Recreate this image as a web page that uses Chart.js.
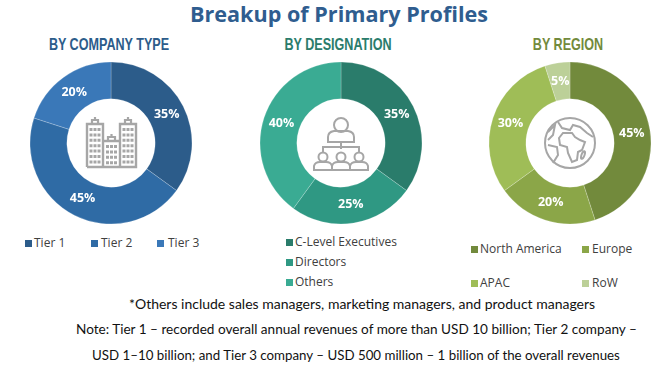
<!DOCTYPE html>
<html><head><meta charset="utf-8">
<script src="https://cdn.jsdelivr.net/npm/chart.js@4"></script>
<style>
html,body{margin:0;padding:0;background:#fff;width:662px;height:366px;overflow:hidden}
#root{position:relative;width:662px;height:366px;overflow:hidden}
.t{position:absolute;white-space:nowrap;line-height:1}
canvas{position:absolute}
.sq{position:absolute;width:7px;height:7px}
.lg{position:absolute;white-space:nowrap;font:12px "Open Sans",sans-serif;color:#404040;line-height:1}
.h{font:bold 17px "Liberation Sans",sans-serif;transform:translateX(-50%) scaleX(.74)}
.n{font:14px Lato,sans-serif;color:#111;transform-origin:left center}
svg{position:absolute;fill:none;stroke:#a6a6a6;stroke-width:2}
</style></head><body><div id="root">
<div class="t" style="left:190px;top:-1px;font:bold 21.6px 'Open Sans',sans-serif;color:#2f5d8f">Breakup of Primary Profiles</div>
<div class="t h" style="left:109px;top:35px;color:#2c5c8a">BY COMPANY TYPE</div>
<div class="t h" style="left:338px;top:35px;color:#2a7c6b">BY DESIGNATION</div>
<div class="t h" style="left:568px;top:35px;color:#728a3c">BY REGION</div>
<canvas id="c1" width="180" height="180" style="left:21px;top:53px"></canvas>
<canvas id="c2" width="180" height="180" style="left:251px;top:53px"></canvas>
<canvas id="c3" width="180" height="180" style="left:480px;top:53px"></canvas>

<svg style="left:84px;top:116px" width="56" height="56" viewBox="0 0 56 56">
<path stroke-width="2.4" d="M3 51V8H19V51M19 51V25H36V51M36 25V8H52V51H3"/><path stroke-width="2.2" d="M8 8V4H14V8M24 25V21H31V25M41 8V4H47V8M11 4V1M27.5 21V18M44 4V1"/>
<path stroke-dasharray="3 2.4" stroke-width="3" d="M7 12V49M11 12V49M15 12V49M40 12V49M44 12V49M48 12V49M23.5 29V49M27.5 29V49M31.5 29V49"/>
</svg>
<svg style="left:313px;top:115px" width="56" height="56" viewBox="0 0 56 56" stroke-width="1.8">
<circle cx="28" cy="10" r="7"/><path d="M15 27V22Q15 17 21 16H35Q41 17 41 22V27Z"/><path d="M28 27V34M10 37V32H46V37"/>
<circle cx="10" cy="42" r="4.5"/><circle cx="28" cy="42" r="4.5"/><circle cx="46" cy="42" r="4.5"/>
<path d="M1 55V51Q2 47 7 47H13Q18 47 19 51V55ZM19 55V51Q20 47 25 47H31Q36 47 37 51V55ZM37 55V51Q38 47 43 47H49Q54 47 55 51V55Z"/>
</svg>
<svg style="left:543px;top:116px" width="54" height="54" viewBox="0 0 54 54" stroke-width="1.8">
<circle cx="27" cy="27" r="25"/>
<path d="M16 22L20 17H29L32 21L37 24L42 26L39 34L35 36L34 44L29 46L25 37L24 31L17 29Z"/>
<ellipse cx="40" cy="39" rx="1.5" ry="4" transform="rotate(20 40 39)"/>
<path d="M15 6L19 12L27 14L30 9L37 11L44 17L50 21M5 16L12 9L10 19L5 24M5 29L14 31L15 39L10 47"/>
</svg>

<div class="t n" style="left:129px;top:295px">*Others include sales managers, marketing managers, and product managers</div>
<div class="t n" style="left:76px;top:320px;transform:scaleX(.97)">Note: Tier 1 – recorded overall annual revenues of more than USD 10 billion; Tier 2 company –</div>
<div class="t n" style="left:92px;top:346px;transform:scaleX(.95)">USD 1–10 billion; and Tier 3 company – USD 500 million – 1 billion of the overall revenues</div>
</div>
<script>
const companyLabels = ["Tier 1","Tier 2","Tier 3"];
const companyValues = [35,45,20];
const companyColors = ["#2c5c8a","#2f6ba5","#3a78b8"];
const designationLabels = ["C-Level Executives","Directors","Others"];
const designationValues = [35,25,40];
const designationColors = ["#2a7c6b","#2f9883","#3aab93"];
const regionLabels = ["North America","Europe","APAC","RoW"];
const regionValues = [45,20,30,5];
const regionColors = ["#728a3c","#8ba648","#9fbd57","#bcd098"];

const pctLabels = {
  id:"pctLabels",
  afterDatasetsDraw(chart){
    const ctx = chart.ctx, ds = chart.data.datasets[0];
    ctx.save();
    ctx.font = 'bold 12.5px "Open Sans",sans-serif';
    ctx.fillStyle = "#fff"; ctx.textAlign = "center"; ctx.textBaseline = "middle";
    chart.getDatasetMeta(0).data.forEach((arc,i)=>{
      const p = arc.getCenterPoint();
      ctx.fillText(ds.data[i]+"%", p.x, p.y);
    });
    ctx.restore();
  }
};
function donut(id,labels,values,colors){
  new Chart(document.getElementById(id),{
    type:"doughnut",
    data:{labels,datasets:[{data:values,backgroundColor:colors,borderColor:"rgba(255,255,255,0.35)",borderWidth:0.6}]},
    options:{responsive:false,animation:false,radius:81,cutout:"54.5%",
      plugins:{legend:{display:false},tooltip:{enabled:false}}},
    plugins:[pctLabels]
  });
}
donut("c1",companyLabels,companyValues,companyColors);
donut("c2",designationLabels,designationValues,designationColors);
donut("c3",regionLabels,regionValues,regionColors);

function legend(labels,colors,places){
  const root=document.getElementById("root");
  labels.forEach((l,i)=>{
    const [x,y,tx]=places[i];
    const s=document.createElement("div");s.className="sq";s.style.cssText=`left:${x}px;top:${y-3}px;background:${colors[i]}`;root.appendChild(s);
    const t=document.createElement("div");t.className="lg";t.textContent=l;t.style.cssText=`left:${tx}px;top:${y-6}px`;root.appendChild(t);
  });
}
legend(companyLabels,companyColors,[[25,243,34],[91,243,101],[157,243,168]]);
legend(designationLabels,designationColors,[[286,242,295],[286,262,295],[286,282,295]]);
legend(regionLabels,regionColors,[[471,249,480],[582,249,592],[471,283,480],[582,283,592]]);
</script></body></html>
